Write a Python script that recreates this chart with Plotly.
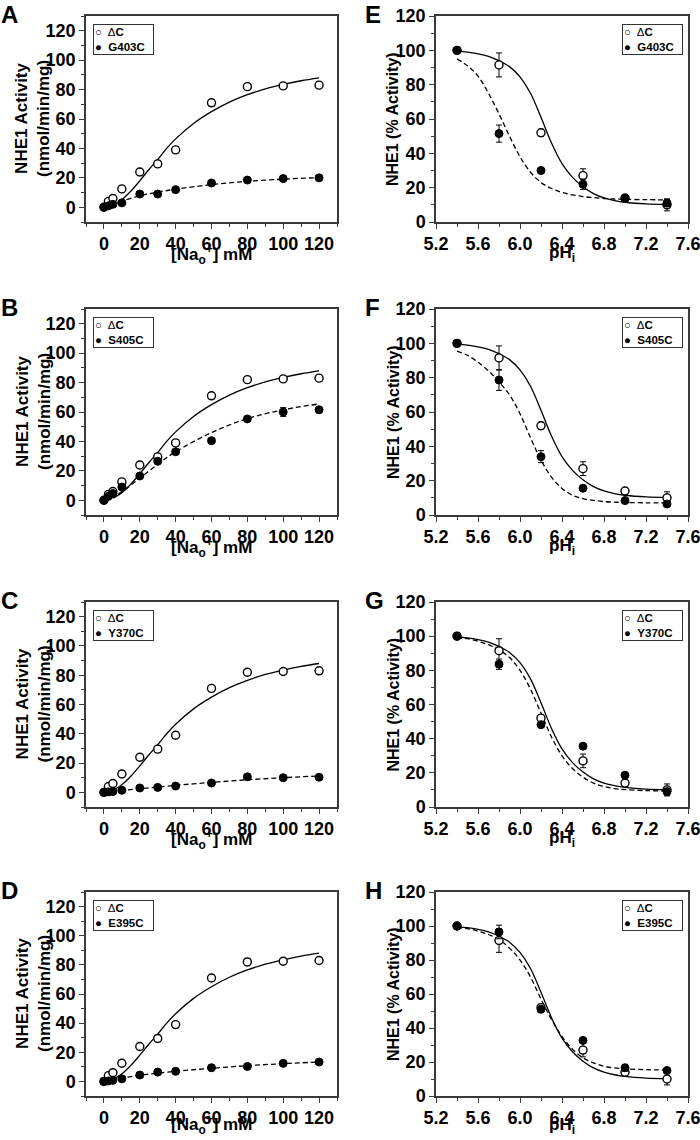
import plotly.graph_objects as go
from plotly.subplots import make_subplots

# ---------------- data ----------------
na_x = [0, 2.5, 5, 10, 20, 30, 40, 60, 80, 100, 120]
dc_na = [0, 4, 6, 12.5, 24, 29.5, 39, 71, 82, 82.5, 83]
dc_na_err = [0.5, 1.5, 1.5, 2, 2, 2, 2, 2, 2, 2, 2]

g403c_na = [0, 1, 2, 3, 9, 9, 12, 16.5, 18.5, 19.5, 20]
g403c_na_err = [0.3, 0.5, 0.5, 0.8, 1, 1, 1, 1, 1, 1, 1]
s405c_na = [0, 2.7, 4.6, 9, 16.5, 26.5, 33, 40.5, 55.3, 60, 61.5]
s405c_na_err = [0.3, 0.5, 0.5, 1, 1, 1, 1.5, 1, 1.5, 3, 2]
y370c_na = [0, 0.3, 0.5, 1.4, 3, 3.4, 4.3, 6.4, 10.6, 10, 10.3]
y370c_na_err = [0.2, 0.2, 0.3, 0.5, 0.5, 0.5, 0.5, 0.8, 1, 1, 1]
e395c_na = [0, 0.3, 0.8, 1.8, 4.4, 6.4, 6.9, 9.4, 10.3, 12.4, 13.3]
e395c_na_err = [0.2, 0.2, 0.3, 0.5, 0.5, 0.5, 0.5, 0.8, 1, 1, 1]

# fitted curves (Na+ dependence)
dc_na_fit_x = [5, 10, 15, 20, 25, 30, 35, 40, 50, 60, 70, 80, 90, 100, 110, 120]
dc_na_fit_y = [1.4, 5.2, 11, 18, 25.5, 32.5, 40, 46.5, 57, 65, 71.5, 76.5, 80.5, 83.5, 86, 88]
g403c_fit_x = [0, 5, 10, 20, 30, 40, 60, 80, 100, 120]
g403c_fit_y = [0, 2.2, 4.2, 7.8, 10.3, 12.3, 15.4, 17.6, 19.1, 20.2]
s405c_fit_x = [0, 5, 10, 20, 30, 40, 60, 80, 100, 120]
s405c_fit_y = [0, 2.5, 6, 15, 24.5, 33, 46, 55.5, 61.5, 65.5]
y370c_fit_x = [0, 20, 40, 60, 80, 100, 120]
y370c_fit_y = [0, 2.5, 4.8, 6.8, 8.6, 10, 11.2]
e395c_fit_x = [0, 10, 20, 40, 60, 80, 100, 120]
e395c_fit_y = [0, 2.3, 4.2, 7, 9, 10.8, 12.2, 13.3]

ph_x = [5.4, 5.8, 6.2, 6.6, 7.0, 7.4]
dc_ph = [100, 91.5, 52, 27, 14, 10]
dc_ph_err = [0.5, 7, 2, 4, 2, 3.5]
g403c_ph = [100, 51.5, 30, 22, 13.7, 11]
g403c_ph_err = [0.5, 5, 1, 3, 1.5, 2]
s405c_ph = [100, 78.6, 34, 15.6, 8.4, 6.4]
s405c_ph_err = [0.5, 6, 3.5, 1, 1, 0.5]
y370c_ph = [100, 83.6, 48.2, 35.6, 18.6, 9]
y370c_ph_err = [0.5, 3, 1.5, 1, 1.5, 2]
e395c_ph = [100, 96.5, 51, 32.7, 16.6, 15]
e395c_ph_err = [0.5, 4, 1.5, 1.5, 2, 1]

# fitted curves (pHi dependence)
ph_fit_x = [5.4, 5.5, 5.6, 5.7, 5.8, 5.9, 6.0, 6.1, 6.2, 6.3, 6.4, 6.5, 6.6, 6.7, 6.8, 6.9, 7.0, 7.2, 7.4]
dc_ph_fit = [99.5, 99, 98, 96.5, 94, 90.5, 84.5, 75, 61, 46, 34, 26, 20.5, 16.5, 14, 12.5, 11.5, 10.5, 10.2]
g403c_ph_fit = [95, 91, 85, 75, 63, 50, 38, 29, 23, 19.5, 17.2, 15.8, 14.8, 14.2, 13.7, 13.4, 13.2, 13, 12.9]
s405c_ph_fit = [95.5, 93, 89, 84, 77.5, 70, 59, 45, 32, 22, 15.5, 11.5, 9.5, 8.5, 7.8, 7.5, 7.3, 7.1, 7]
y370c_ph_fit = [99, 98.5, 97, 95, 92, 87.5, 80, 69, 55, 41, 30, 22.5, 17.5, 14, 12, 10.8, 10.2, 9.6, 9.4]
e395c_ph_fit = [99, 98.5, 97, 95, 92, 87, 80, 70, 57, 45, 35, 27.5, 22.5, 19.5, 17.5, 16.5, 16, 15.5, 15.3]

mutants = ["G403C", "S405C", "Y370C", "E395C"]
letters_left = ["A", "B", "C", "D"]
letters_right = ["E", "F", "G", "H"]
na_mut = [(g403c_na, g403c_na_err, g403c_fit_x, g403c_fit_y),
          (s405c_na, s405c_na_err, s405c_fit_x, s405c_fit_y),
          (y370c_na, y370c_na_err, y370c_fit_x, y370c_fit_y),
          (e395c_na, e395c_na_err, e395c_fit_x, e395c_fit_y)]
ph_mut = [(g403c_ph, g403c_ph_err, g403c_ph_fit),
          (s405c_ph, s405c_ph_err, s405c_ph_fit),
          (y370c_ph, y370c_ph_err, y370c_ph_fit),
          (e395c_ph, e395c_ph_err, e395c_ph_fit)]

# ---------------- layout geometry (pixels) ----------------
W, H = 700, 1140
col_px = [(86, 337), (436, 688)]
row_px = [(16, 222), (309, 515), (602, 807), (892, 1096)]

FONT = "Liberation Sans, Arial, sans-serif"
AX = "#3a3a3a"


def px(xp, yp):
    return xp / W, 1 - yp / H


fig = make_subplots(rows=4, cols=2)

for r in range(4):
    for c in range(2):
        row, col = r + 1, c + 1
        if c == 0:
            mvals, merr, fx, fy = na_mut[r]
            xs, dcv, dce, fitx_dc, fity_dc = na_x, dc_na, dc_na_err, dc_na_fit_x, dc_na_fit_y
        else:
            mvals, merr, mfit = ph_mut[r]
            fx, fy = ph_fit_x, mfit
            xs, dcv, dce, fitx_dc, fity_dc = ph_x, dc_ph, dc_ph_err, ph_fit_x, dc_ph_fit
        fig.add_trace(go.Scatter(x=fitx_dc, y=fity_dc, mode="lines", line_shape="spline", name="ΔC fit",
                                 line=dict(color="black", width=1.3), hoverinfo="skip"), row=row, col=col)
        fig.add_trace(go.Scatter(x=fx, y=fy, mode="lines", line_shape="spline", name=f"{mutants[r]} fit",
                                 line=dict(color="black", width=1.3, dash="5px,3px"), hoverinfo="skip"), row=row, col=col)
        fig.add_trace(go.Scatter(x=xs, y=dcv, mode="markers", name="ΔC",
                                 error_y=dict(type="data", array=dce, color="black", thickness=1, width=3),
                                 marker=dict(symbol="circle", size=8, color="white", line=dict(color="black", width=1.4))),
                      row=row, col=col)
        fig.add_trace(go.Scatter(x=xs, y=mvals, mode="markers", name=mutants[r],
                                 error_y=dict(type="data", array=merr, color="black", thickness=1, width=3),
                                 marker=dict(symbol="circle", size=8, color="black", line=dict(color="black", width=1))),
                      row=row, col=col)

        x0, x1 = col_px[c]
        y0, y1 = row_px[r]
        xd = [x0 / W, x1 / W]
        yd = [1 - y1 / H, 1 - y0 / H]
        common = dict(showline=True, mirror=True, linecolor=AX, linewidth=1.5, ticks="outside",
                      ticklen=5, tickwidth=1.3, tickcolor=AX, showgrid=False, zeroline=False,
                      ticklabeloverflow="allow",
                      tickfont=dict(family=FONT, size=18, color="black", weight="bold"), automargin=False)
        minor = dict(ticks="outside", ticklen=3, tickwidth=1, tickcolor=AX)
        if c == 0:
            fig.update_xaxes(domain=xd, range=[-10, 130], tick0=0, dtick=20,
                             minor=dict(tick0=0, dtick=10, **minor), row=row, col=col, **common)
            fig.update_yaxes(domain=yd, range=[-10, 130], tick0=0, dtick=20,
                             minor=dict(tick0=0, dtick=10, **minor), row=row, col=col, **common)
        else:
            fig.update_xaxes(domain=xd, range=[5.2, 7.6], tick0=5.2, dtick=0.4, tickformat=".1f",
                             minor=dict(tick0=5.2, dtick=0.2, **minor), row=row, col=col, **common)
            fig.update_yaxes(domain=yd, range=[0, 120], tick0=0, dtick=20,
                             minor=dict(tick0=0, dtick=10, **minor), row=row, col=col, **common)

        # legend box (text-based)
        leg_text = "○  Δ<b>C</b><br>●  <b>" + mutants[r] + "</b>"
        if c == 0:
            lx, ly = px(x0 + 6.5, y0 + 7.5)
            xanchor = "left"
        else:
            lx, ly = px(x1 - 5.5, y0 + 7.5)
            xanchor = "right"
        fig.add_annotation(x=lx, y=ly, xref="paper", yref="paper", xanchor=xanchor, yanchor="top",
                           text=leg_text, showarrow=False, align="left", width=57,
                           font=dict(family=FONT, size=11.5, color="black"),
                           bgcolor="white", bordercolor="#333333", borderwidth=1, borderpad=1)

        # axis titles and panel letters
        ymid = (y0 + y1) / 2
        xmid = (x0 + x1) / 2
        if r < 3:
            t_y, t_anchor = y1 + 32, "middle"
        else:
            t_y, t_anchor = 1139, "bottom"
        if c == 0:
            ax_, ay_ = px(33, ymid)
            fig.add_annotation(x=ax_, y=ay_, xref="paper", yref="paper", textangle=-90,
                               text="<b>NHE1 Activity</b><br><b>(nmol/min/mg)</b>", showarrow=False,
                               font=dict(family=FONT, size=17, color="black"), xanchor="center", yanchor="middle")
            tx, ty = px(xmid, t_y)
            fig.add_annotation(x=tx, y=ty, xref="paper", yref="paper",
                               text="<b>[Na<sub>o</sub><sup>+</sup>] mM</b>", showarrow=False,
                               font=dict(family=FONT, size=17, color="black"), xanchor="center", yanchor=t_anchor)
            lx_, ly_ = px(-1, y0 - 2)
            fig.add_annotation(x=lx_, y=ly_, xref="paper", yref="paper",
                               text=f"<b>{letters_left[r]}</b>", showarrow=False,
                               font=dict(family=FONT, size=24, color="black"), xanchor="left", yanchor="middle")
        else:
            ax_, ay_ = px(393, ymid)
            fig.add_annotation(x=ax_, y=ay_, xref="paper", yref="paper", textangle=-90,
                               text="<b>NHE1 (% Activity)</b>", showarrow=False,
                               font=dict(family=FONT, size=16, color="black"), xanchor="center", yanchor="middle")
            tx, ty = px(xmid, t_y)
            fig.add_annotation(x=tx, y=ty, xref="paper", yref="paper",
                               text="<b>pH<sub>i</sub></b>", showarrow=False,
                               font=dict(family=FONT, size=17, color="black"), xanchor="center", yanchor=t_anchor)
            lx_, ly_ = px(363, y0 - 2)
            fig.add_annotation(x=lx_, y=ly_, xref="paper", yref="paper",
                               text=f"<b>{letters_right[r]}</b>", showarrow=False,
                               font=dict(family=FONT, size=24, color="black"), xanchor="left", yanchor="middle")

fig.update_layout(width=W, height=H, margin=dict(l=0, r=0, t=0, b=0),
                  paper_bgcolor="white", plot_bgcolor="white", autosize=False, showlegend=False,
                  font=dict(family=FONT, color="black"))

fig.write_html("out.html", config={"displayModeBar": False},
               post_script="document.body.style.margin='0px';")
